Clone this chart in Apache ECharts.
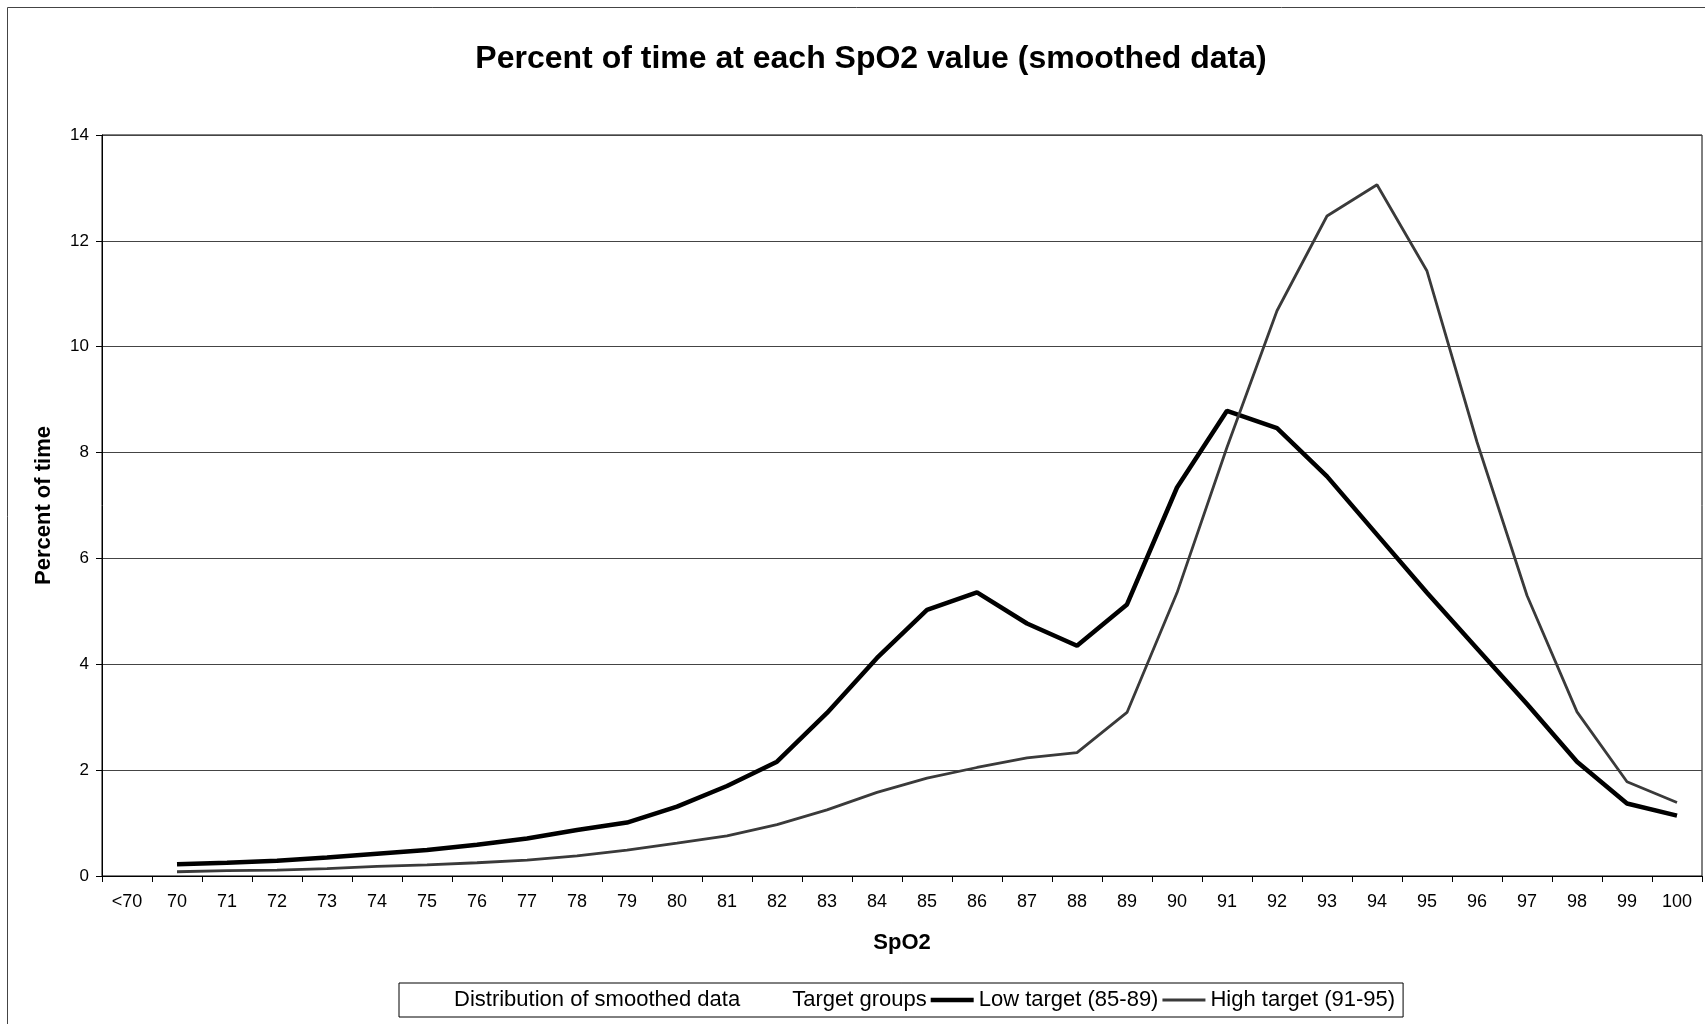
<!DOCTYPE html>
<html>
<head>
<meta charset="utf-8">
<script src="https://cdn.jsdelivr.net/npm/echarts@6/dist/echarts.min.js"></script>
<style>
  html, body { margin: 0; padding: 0; background: #fff; }
  #chart { width: 1705px; height: 1024px; }
</style>
</head>
<body>
<div id="chart"></div>
<script>
// ---- data ----
const categories = ['<70','70','71','72','73','74','75','76','77','78','79','80','81','82','83','84','85','86','87','88','89','90','91','92','93','94','95','96','97','98','99','100'];
const lowTarget  = [null, 0.22, 0.25, 0.29, 0.35, 0.42, 0.49, 0.59, 0.71, 0.87, 1.01, 1.31, 1.70, 2.16, 3.08, 4.12, 5.03, 5.36, 4.77, 4.35, 5.13, 7.34, 8.79, 8.46, 7.55, 6.45, 5.35, 4.30, 3.25, 2.16, 1.37, 1.14];
const highTarget = [null, 0.08, 0.10, 0.11, 0.14, 0.18, 0.21, 0.25, 0.30, 0.38, 0.49, 0.62, 0.76, 0.97, 1.25, 1.58, 1.85, 2.05, 2.23, 2.33, 3.09, 5.35, 8.10, 10.68, 12.47, 13.06, 11.43, 8.20, 5.30, 3.10, 1.78, 1.39];
const yTicks = { min: 0, max: 14, interval: 2 };
const titleText = 'Percent of time at each SpO2 value (smoothed data)';
const legendNames = ['Distribution of smoothed data', 'Target groups', 'Low target (85-89)', 'High target (91-95)'];

const FONT = '"Liberation Sans", Arial, sans-serif';
const chart = echarts.init(document.getElementById('chart'), null, { renderer: 'canvas' });

chart.setOption({
  backgroundColor: '#ffffff',
  animation: false,
  textStyle: { fontFamily: FONT, color: '#000' },
  title: {
    text: titleText,
    left: 866, top: 38,
    textAlign: 'center',
    textStyle: { fontFamily: FONT, fontSize: 32, fontWeight: 'bold', color: '#000' }
  },
  graphic: [{
    type: 'rect', silent: true, z: -1,
    shape: { x: 7.5, y: 7.5, width: 1720, height: 1040 },
    style: { fill: 'none', stroke: '#444', lineWidth: 1 }
  }],
  grid: {
    left: 102, right: 3, top: 135, bottom: 148,
    show: true, borderColor: '#000', borderWidth: 1, backgroundColor: 'transparent'
  },
  legend: {
    left: 399, top: 983,
    padding: [6, 8, 6, 7],
    itemGap: 4,
    itemWidth: 43, itemHeight: 14,
    borderColor: '#000', borderWidth: 1,
    textStyle: { fontFamily: FONT, fontSize: 22, color: '#000' },
    data: [
      { name: legendNames[0], icon: 'none' },
      { name: legendNames[1], icon: 'none' },
      { name: legendNames[2], icon: 'path://M0,0H43V4.5H0Z', itemStyle: { color: '#000' } },
      { name: legendNames[3], icon: 'path://M0,0H43V2.8H0Z', itemStyle: { color: '#3a3a3a' } }
    ]
  },
  xAxis: {
    type: 'category',
    data: categories,
    boundaryGap: true,
    name: 'SpO2',
    nameLocation: 'middle',
    nameGap: 56,
    nameTextStyle: { fontFamily: FONT, fontSize: 22, fontWeight: 'bold', color: '#000' },
    axisLine: { lineStyle: { color: '#000', width: 1 } },
    axisTick: { show: true, length: 6, inside: false, alignWithLabel: false, lineStyle: { color: '#000' } },
    axisLabel: { fontFamily: FONT, fontSize: 18, color: '#000', margin: 17, interval: 0 },
    splitLine: { show: false }
  },
  yAxis: {
    type: 'value',
    min: yTicks.min, max: yTicks.max, interval: yTicks.interval,
    name: 'Percent of time',
    nameLocation: 'middle',
    nameRotate: 90,
    nameGap: 47,
    nameTextStyle: { fontFamily: FONT, fontSize: 22, fontWeight: 'bold', color: '#000' },
    axisLine: { show: true, lineStyle: { color: '#000', width: 1 } },
    axisTick: { show: true, length: 6, lineStyle: { color: '#000' } },
    axisLabel: { fontFamily: FONT, fontSize: 17, color: '#000', margin: 13 },
    splitLine: { show: true, lineStyle: { color: '#444', width: 1 } }
  },
  series: [
    { name: legendNames[0], type: 'line', data: [], showSymbol: false, symbol: 'none', lineStyle: { width: 0 } },
    { name: legendNames[1], type: 'line', data: [], showSymbol: false, symbol: 'none', lineStyle: { width: 0 } },
    {
      name: legendNames[2], type: 'line', data: lowTarget,
      symbol: 'none', smooth: false, connectNulls: false,
      itemStyle: { color: '#000' },
      lineStyle: { color: '#000', width: 4.5 },
      z: 3
    },
    {
      name: legendNames[3], type: 'line', data: highTarget,
      symbol: 'none', smooth: false, connectNulls: false,
      itemStyle: { color: '#3a3a3a' },
      lineStyle: { color: '#3a3a3a', width: 2.8 },
      z: 4
    }
  ]
});
</script>
</body>
</html>
